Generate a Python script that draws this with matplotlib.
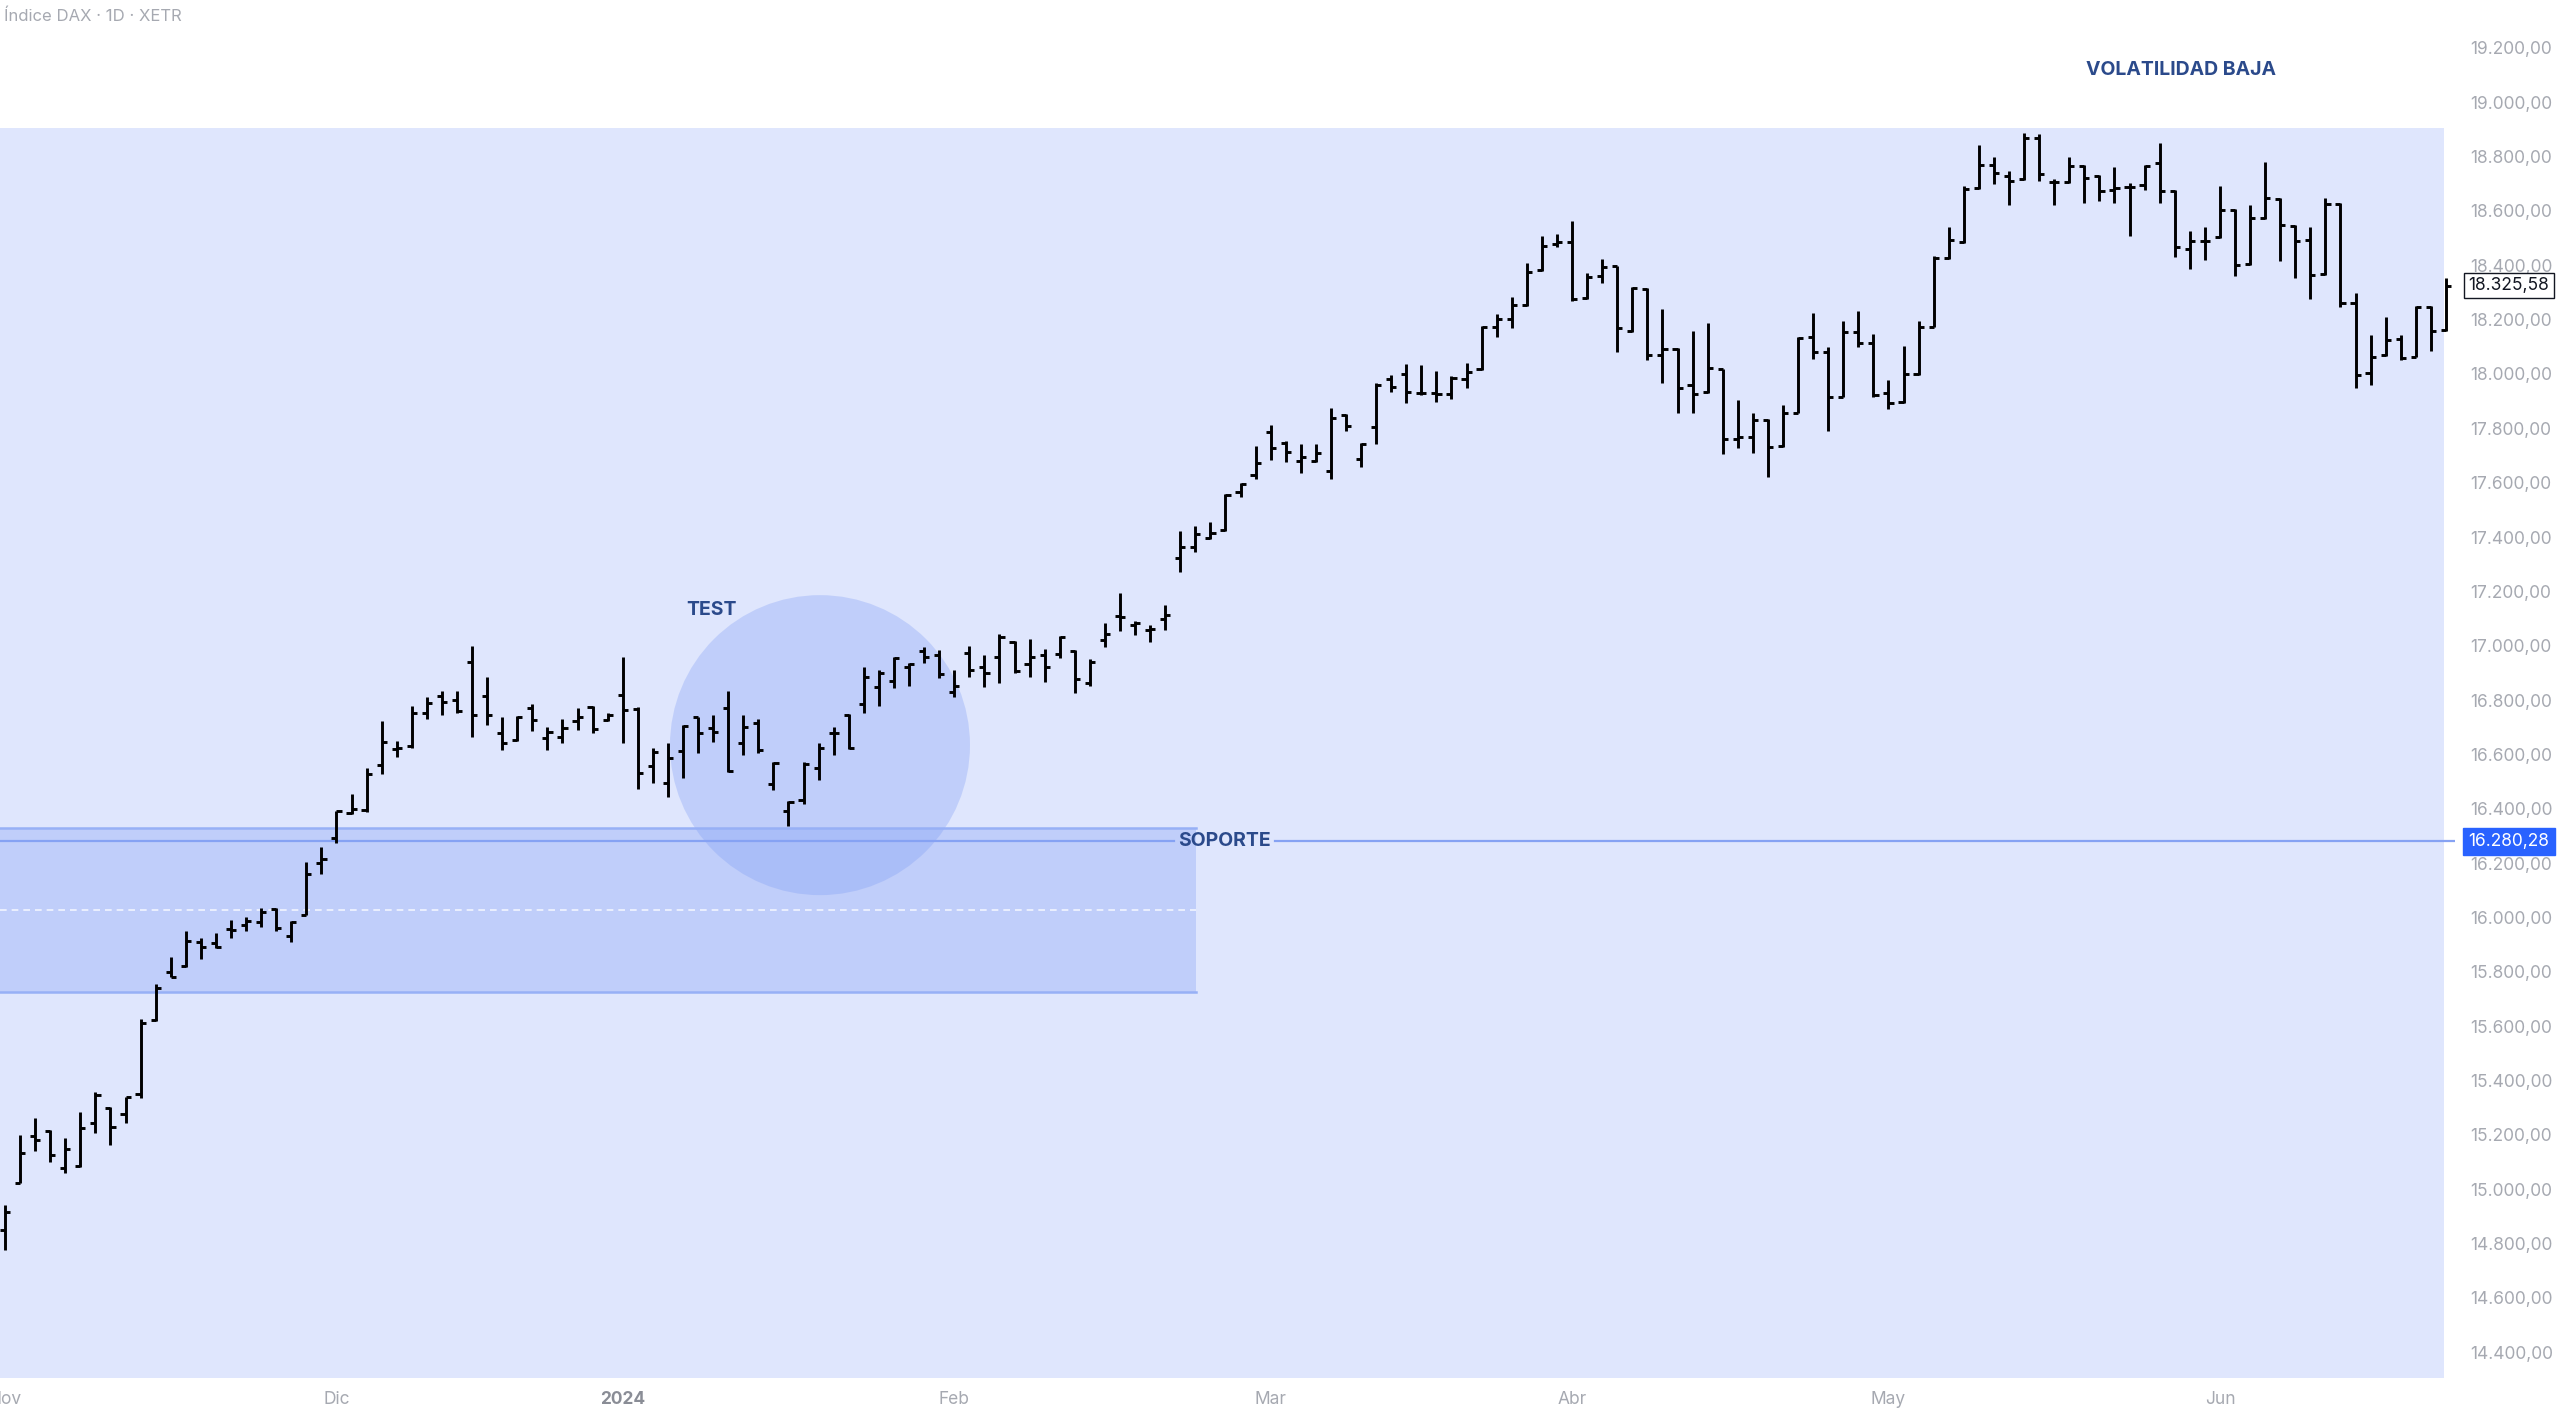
#DAX daily bars with support zone

import numpy as np
import pandas as pd
import matplotlib
matplotlib.use("Agg")
import matplotlib.pyplot as plt
from matplotlib.collections import LineCollection
from matplotlib.patches import Rectangle, Ellipse
import matplotlib.transforms as mtransforms

plt.rcParams['font.family'] = ['Inter', 'DejaVu Sans']

# OHLC (Nov 2023 - Jun 2024)
opens = [14849, 15024, 15195, 15215, 15077, 15085, 15242, 15297, 15276, 15349,
         15622, 15800, 15821, 15911, 15905, 15956, 15972, 15984, 16030, 15932,
         16009, 16201, 16291, 16383, 16395, 16561, 16619, 16631, 16751, 16815,
         16800, 16941, 16815, 16677, 16653, 16769, 16659, 16665, 16724, 16773,
         16727, 16819, 16766, 16557, 16496, 16614, 16736, 16696, 16769, 16643,
         16714, 16491, 16393, 16432, 16549, 16680, 16745, 16785, 16847, 16871,
         16920, 16982, 16966, 16831, 16974, 16920, 16960, 17015, 16933, 16966,
         16969, 16982, 16864, 17021, 17109, 17076, 17058, 17097, 17322, 17365,
         17395, 17426, 17567, 17628, 17788, 17747, 17681, 17681, 17644, 17849,
         17686, 17804, 17980, 18000, 17931, 17931, 17926, 17980, 18017, 18172,
         18201, 18254, 18383, 18478, 18487, 18279, 18361, 18397, 18159, 18312,
         18070, 18091, 17960, 17935, 18017, 17760, 17769, 17831, 17735, 17858,
         18137, 18082, 17917, 18156, 18115, 17929, 17898, 18000, 18174, 18426,
         18487, 18683, 18769, 18729, 18717, 18867, 18708, 18708, 18765, 18729,
         18677, 18687, 18696, 18775, 18675, 18459, 18491, 18503, 18604, 18405,
         18573, 18643, 18545, 18493, 18368, 18626, 18263, 18003, 18070, 18128,
         18064, 18248, 18162]
highs = [14941, 15199, 15263, 15218, 15187, 15283, 15359, 15303, 15340, 15625,
         15755, 15855, 15950, 15923, 15941, 15990, 16000, 16033, 16033, 15987,
         16205, 16258, 16393, 16454, 16549, 16724, 16650, 16778, 16812, 16833,
         16833, 16999, 16886, 16739, 16741, 16784, 16700, 16729, 16772, 16778,
         16754, 16960, 16776, 16622, 16641, 16708, 16738, 16745, 16835, 16745,
         16729, 16573, 16430, 16573, 16643, 16702, 16749, 16920, 16911, 16960,
         16938, 16994, 16984, 16911, 16999, 16966, 17043, 17019, 17023, 16987,
         17036, 16984, 16950, 17085, 17193, 17092, 17076, 17150, 17423, 17441,
         17454, 17558, 17600, 17735, 17812, 17755, 17742, 17742, 17874, 17853,
         17745, 17966, 17996, 18037, 18033, 18012, 17993, 18039, 18177, 18221,
         18282, 18410, 18508, 18515, 18564, 18371, 18422, 18398, 18319, 18315,
         18238, 18094, 18159, 18189, 18020, 17904, 17858, 17834, 17886, 18137,
         18223, 18098, 18196, 18233, 18147, 17978, 18103, 18196, 18434, 18540,
         18692, 18843, 18797, 18748, 18888, 18883, 18717, 18800, 18768, 18732,
         18761, 18702, 18769, 18851, 18678, 18528, 18540, 18692, 18607, 18622,
         18782, 18646, 18548, 18540, 18647, 18629, 18299, 18144, 18209, 18144,
         18250, 18250, 18352]
lows = [14776, 15021, 15140, 15101, 15058, 15083, 15205, 15162, 15242, 15334,
        15620, 15779, 15819, 15847, 15886, 15923, 15951, 15966, 15951, 15911,
        16009, 16160, 16273, 16381, 16389, 16528, 16589, 16622, 16729, 16745,
        16754, 16665, 16708, 16616, 16650, 16687, 16616, 16643, 16690, 16680,
        16724, 16641, 16471, 16493, 16444, 16512, 16606, 16647, 16536, 16598,
        16604, 16469, 16336, 16416, 16506, 16598, 16619, 16754, 16778, 16843,
        16852, 16938, 16880, 16812, 16886, 16849, 16864, 16901, 16884, 16868,
        16953, 16825, 16852, 16996, 17055, 17039, 17015, 17058, 17272, 17346,
        17392, 17423, 17549, 17612, 17683, 17677, 17634, 17677, 17612, 17791,
        17656, 17742, 17935, 17895, 17923, 17898, 17907, 17947, 18015, 18135,
        18168, 18250, 18380, 18466, 18270, 18275, 18334, 18082, 18155, 18051,
        17968, 17855, 17855, 17931, 17706, 17726, 17710, 17620, 17733, 17855,
        18054, 17791, 17914, 18098, 17917, 17870, 17894, 17997, 18172, 18422,
        18483, 18680, 18699, 18622, 18714, 18712, 18622, 18704, 18631, 18638,
        18631, 18508, 18677, 18628, 18432, 18385, 18420, 18499, 18361, 18401,
        18570, 18417, 18352, 18275, 18364, 18248, 17947, 17960, 18066, 18051,
        18061, 18086, 18158]
closes = [14917, 15132, 15181, 15125, 15146, 15224, 15346, 15230, 15338, 15610,
          15739, 15782, 15914, 15892, 15890, 15954, 15988, 16021, 15960, 15984,
          16160, 16214, 16390, 16398, 16528, 16647, 16625, 16751, 16788, 16794,
          16761, 16745, 16745, 16641, 16739, 16727, 16684, 16696, 16736, 16692,
          16745, 16763, 16530, 16610, 16585, 16705, 16680, 16684, 16540, 16700,
          16616, 16567, 16426, 16565, 16622, 16677, 16622, 16884, 16901, 16953,
          16933, 16960, 16896, 16852, 16911, 16898, 17031, 16908, 16957, 16920,
          17031, 16876, 16941, 17043, 17105, 17085, 17060, 17113, 17365, 17411,
          17416, 17555, 17595, 17674, 17726, 17714, 17693, 17710, 17837, 17809,
          17742, 17959, 17953, 17935, 17929, 17926, 17984, 18009, 18174, 18201,
          18254, 18377, 18471, 18487, 18275, 18358, 18395, 18170, 18315, 18070,
          18091, 17947, 17926, 18021, 17760, 17767, 17831, 17733, 17855, 18134,
          18082, 17914, 18156, 18113, 17923, 17892, 18000, 18172, 18426, 18493,
          18680, 18769, 18739, 18712, 18867, 18736, 18708, 18765, 18720, 18675,
          18683, 18687, 18766, 18675, 18469, 18491, 18491, 18604, 18401, 18573,
          18647, 18548, 18491, 18364, 18626, 18260, 17996, 18061, 18125, 18058,
          18248, 18160, 18325.58]

# Xetra trading days
holidays = ["2023-12-25", "2023-12-26", "2024-01-01", "2024-03-29", "2024-04-01", "2024-05-01"]
dates = pd.bdate_range("2023-11-01", "2024-06-24")
dates = dates[~dates.isin(pd.to_datetime(holidays))]

month_labels = ["Nov", "Dic", "2024", "Feb", "Mar", "Abr", "May", "Jun"]

support_level = 16280.28
zone_top = 16329
zone_bottom = 15725
vol_top = 18905
last_price = closes[-1]

def fmt(v):
    s = f"{v:,.2f}"
    return s.replace(",", "X").replace(".", ",").replace("X", ".")

x = np.arange(len(dates))
o = np.array(opens); h = np.array(highs); l = np.array(lows); c = np.array(closes)

fig = plt.figure(figsize=(25.6, 14.14), dpi=100)
ax = fig.add_axes([0, 36 / 1414, 2455 / 2560, 1378 / 1414])
ax.set_facecolor("white")
x0, x1 = -0.33, 162.6
y0, y1 = 14304.7, 19376.5
ax.set_xlim(x0, x1)
ax.set_ylim(y0, y1)

# px -> data helpers
bx = (x1 - x0) / 2455
by = (y1 - y0) / 1378

# volatility zone background
ax.add_patch(Rectangle((x0 - 1, y0 - 100), 161.87 - x0 + 1, vol_top - y0 + 100,
                       facecolor="#dfe6fd", edgecolor="none", zorder=0))

# support zone box
ax.add_patch(Rectangle((x0 - 1, zone_bottom), 79.04 - x0 + 1, zone_top - zone_bottom,
                       facecolor="#7a99f4", alpha=0.3, edgecolor="none", zorder=1))
ax.plot([x0, 79.04], [zone_top, zone_top], color="#97b0f6", lw=1.8, zorder=1.2)
ax.plot([x0, 79.04], [zone_bottom, zone_bottom], color="#97b0f6", lw=1.8, zorder=1.2)
ax.plot([x0, 79.04], [(zone_top + zone_bottom) / 2] * 2, color="white", lw=1.2,
        ls=(0, (4, 3)), alpha=0.8, zorder=1.2)

# test circle
ax.add_patch(Ellipse((54.09, 16634), 300 * bx, 300 * by, facecolor="#7a99f4",
                     alpha=0.3, edgecolor="none", zorder=1.1))

# support line with label
ax.plot([x0, 77.6], [support_level] * 2, color="#86a2f3", lw=1.6, zorder=1.3)
ax.plot([84.3, x1], [support_level] * 2, color="#86a2f3", lw=1.6, zorder=1.3)
ax.text(80.95, support_level, "SOPORTE", ha="center", va="center", fontsize=14,
        fontweight="bold", color="#2b4a8b", zorder=4)
ax.text(46.9, 17131, "TEST", ha="center", va="center", fontsize=14,
        fontweight="bold", color="#2b4a8b", zorder=4)
ax.text(144.4, 19119, "VOLATILIDAD BAJA", ha="center", va="center", fontsize=14,
        fontweight="bold", color="#2b4a8b", zorder=4)

# OHLC bars
tick = 0.34
segs = []
for i in range(len(x)):
    segs.append([(x[i], l[i]), (x[i], h[i])])
    segs.append([(x[i] - tick, o[i]), (x[i], o[i])])
    segs.append([(x[i], c[i]), (x[i] + tick, c[i])])
ax.add_collection(LineCollection(segs, colors="black", linewidths=2.1,
                                 capstyle="butt", zorder=3))

# axes styling
for s in ax.spines.values():
    s.set_visible(False)
ax.yaxis.tick_right()
yt = np.arange(14400, 19201, 200)
ax.set_yticks(yt)
ax.set_yticklabels([fmt(v) for v in yt])
ax.tick_params(axis="y", length=0, pad=11, labelsize=12.5, labelcolor="#a6a9b1")

month_pos = [0] + [i for i in range(1, len(dates)) if dates[i].month != dates[i - 1].month]
ax.set_xticks(month_pos)
ax.set_xticklabels(month_labels)
ax.tick_params(axis="x", length=0, pad=9, labelsize=12.5, labelcolor="#a6a9b1")
for lab in ax.get_xticklabels():
    if lab.get_text() == "2024":
        lab.set_color("#8a8d96")
        lab.set_fontweight("bold")

# price labels on the right scale
tr = mtransforms.blended_transform_factory(ax.transAxes, ax.transData)
ax.text(1.0055, last_price, fmt(last_price), transform=tr, ha="left", va="center",
        fontsize=12.5, color="#131722", zorder=6, clip_on=False,
        bbox=dict(boxstyle="square,pad=0.25", facecolor="white", edgecolor="#131722", lw=1))
ax.text(1.0055, support_level, fmt(support_level), transform=tr, ha="left", va="center",
        fontsize=12.5, color="white", zorder=6, clip_on=False,
        bbox=dict(boxstyle="square,pad=0.3", facecolor="#2962ff", edgecolor="#2962ff", lw=1))

fig.text(4 / 2560, 1 - 16 / 1414, "Índice DAX · 1D · XETR", ha="left", va="center",
         fontsize=12, color="#a6a9b1")

fig.savefig("out.png", dpi=100, facecolor="white")
